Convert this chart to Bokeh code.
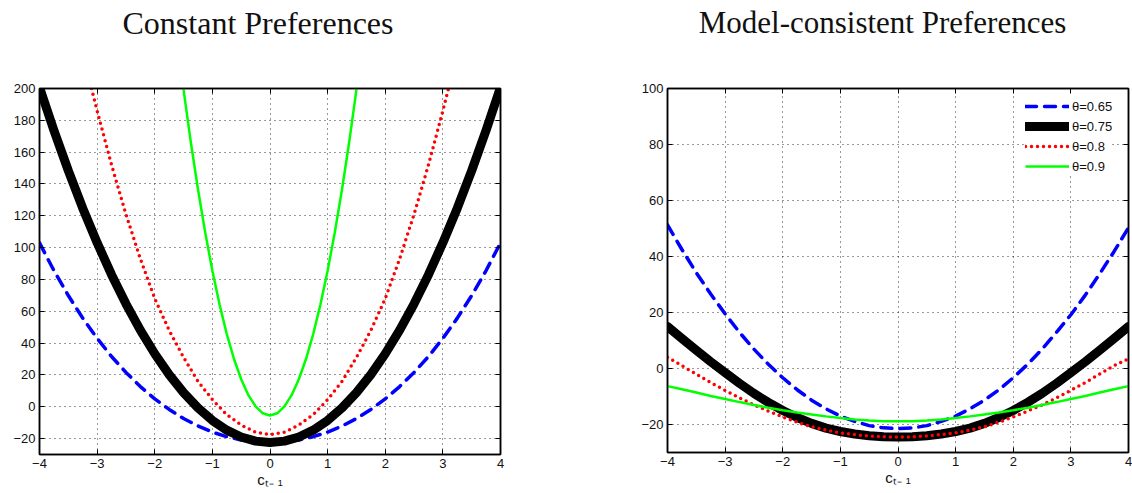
from bokeh.plotting import figure
from bokeh.models import Range1d, FixedTicker, LinearAxis, Title
from bokeh.layouts import row
from bokeh.embed import file_html
from bokeh.resources import INLINE

# ---------------- data ----------------
x_full = [-4, -3.75, -3.5, -3.25, -3, -2.75, -2.5, -2.25, -2, -1.75, -1.5, -1.25, -1, -0.75, -0.5, -0.25,
          0, 0.25, 0.5, 0.75, 1, 1.25, 1.5, 1.75, 2, 2.25, 2.5, 2.75, 3, 3.25, 3.5, 3.75, 4]

# Constant Preferences
left_065 = [103.0, 85.6, 69.9, 55.7, 43.0, 31.6, 21.6, 12.7, 5.0, -1.7, -7.4, -12.1, -15.9, -18.8, -20.9, -22.1,
            -22.5, -22.1, -20.9, -18.8, -15.9, -12.1, -7.4, -1.7, 5.0, 12.7, 21.6, 31.6, 43.0, 55.7, 69.9, 85.6, 103.0]
left_075 = [200.7, 173.7, 148.4, 124.8, 103.1, 83.0, 64.7, 48.1, 33.3, 20.2, 8.9, -0.7, -8.6, -14.7, -19.0, -21.6,
            -22.5, -21.6, -19.0, -14.7, -8.6, -0.7, 8.9, 20.2, 33.3, 48.1, 64.7, 83.0, 103.1, 124.8, 148.4, 173.7, 200.7]
x_red_left = [-3.25, -3, -2.75, -2.5, -2.25, -2, -1.75, -1.5, -1.25, -1, -0.75, -0.5, -0.25,
              0, 0.25, 0.5, 0.75, 1, 1.25, 1.5, 1.75, 2, 2.25, 2.5, 2.75, 3, 3.25]
left_08 = [222, 186, 152, 121, 93, 68, 48, 31, 16, 4.5, -5, -11.5, -16,
           -17.5, -16, -11.5, -5, 4.5, 16, 31, 48, 68, 93, 121, 152, 186, 222]
x_green_left = [-1.625, -1.5, -1.375, -1.25, -1.125, -1, -0.875, -0.75, -0.625, -0.5, -0.375, -0.25, -0.125,
                0, 0.125, 0.25, 0.375, 0.5, 0.625, 0.75, 0.875, 1, 1.125, 1.25, 1.375, 1.5, 1.625]
left_09 = [234.8, 199.3, 166.5, 136.7, 109.7, 85.5, 64.2, 45.7, 30.0, 17.3, 7.3, 0.2, -4.1,
           -5.5, -4.1, 0.2, 7.3, 17.3, 30.0, 45.7, 64.2, 85.5, 109.7, 136.7, 166.5, 199.3, 234.8]

# Model-consistent Preferences
right_065 = [51.3, 42.5, 34.2, 26.6, 19.5, 12.9, 6.9, 1.5, -3.3, -7.6, -11.3, -14.4, -17.0, -18.9, -20.4, -21.2,
             -21.5, -21.2, -20.4, -18.9, -17.0, -14.4, -11.3, -7.6, -3.3, 1.5, 6.9, 12.9, 19.2, 26.2, 33.8, 41.8, 50.3]
right_075 = [15.0, 10.7, 6.5, 2.4, -1.5, -5.3, -8.9, -12.1, -15.0, -17.5, -19.6, -21.3, -22.5, -23.4, -24.0, -24.4,
             -24.5, -24.4, -24.0, -23.4, -22.5, -21.3, -19.6, -17.5, -15.0, -12.1, -8.9, -5.3, -1.5, 2.4, 6.5, 10.7, 15.0]
right_08 = [4.0, 1.0, -2.0, -5.0, -7.8, -10.5, -13.0, -15.2, -17.3, -19.2, -20.8, -22.0, -23.0, -23.6, -24.1, -24.4,
            -24.5, -24.4, -24.1, -23.6, -23.0, -22.0, -20.8, -19.2, -17.3, -15.2, -13.0, -10.5, -7.8, -5.0, -2.0, 1.0, 3.5]
right_09 = [-6.3, -7.4, -8.6, -9.8, -10.9, -12.0, -13.0, -14.0, -14.9, -15.7, -16.4, -17.1, -17.7, -18.2, -18.6, -18.8,
            -18.8, -18.8, -18.6, -18.2, -17.7, -17.1, -16.4, -15.7, -14.9, -14.0, -13.0, -12.0, -10.9, -9.8, -8.6, -7.4, -6.3]

x_ticks = [-4, -3, -2, -1, 0, 1, 2, 3, 4]
y_ticks_left = [-20, 0, 20, 40, 60, 80, 100, 120, 140, 160, 180, 200]
y_ticks_right = [-20, 0, 20, 40, 60, 80, 100]
legend_labels = ["θ=0.65", "θ=0.75", "θ=0.8", "θ=0.9"]
titles = ["Constant Preferences", "Model-consistent Preferences"]
x_label = "c\u209c\u208b \u2081"   # c_{t- 1}

SANS = "Liberation Sans"
SERIF = "Liberation Serif"
INK = "#111111"


def style_axis(ax, ticks, labels=True):
    ax.ticker = FixedTicker(ticks=ticks)
    ax.major_tick_in = 5
    ax.major_tick_out = 0
    ax.minor_tick_line_color = None
    ax.major_tick_line_color = "black"
    ax.major_tick_line_width = 1
    ax.axis_line_color = "black"
    ax.axis_line_width = 1.5
    ax.major_label_text_font = SANS
    ax.major_label_text_font_size = "13px"
    ax.major_label_text_color = INK
    if labels:
        ax.major_label_standoff = 4
    else:
        ax.major_label_overrides = {t: "" for t in ticks}
        ax.major_label_standoff = 0


def make_fig(ylo, yhi, yticks, fh, mb_top, mb_bottom, mb_left, mb_right, title, pad, tsize, gap):
    p = figure(frame_width=461, frame_height=fh, x_range=Range1d(-4, 4), y_range=Range1d(ylo, yhi),
               output_backend="svg", toolbar_location=None,
               min_border_top=mb_top, min_border_bottom=mb_bottom,
               min_border_left=mb_left, min_border_right=mb_right)
    p.background_fill_color = "white"
    p.border_fill_color = "white"
    p.outline_line_color = "black"
    p.outline_line_width = 1.5
    style_axis(p.xaxis[0], x_ticks)
    style_axis(p.yaxis[0], yticks)
    xa = p.xaxis[0]
    xa.axis_label = x_label
    xa.axis_label_text_font = SANS
    xa.axis_label_text_font_size = "15px"
    xa.axis_label_text_font_style = "normal"
    xa.axis_label_text_color = INK
    xa.axis_label_standoff = 0
    top = LinearAxis()
    style_axis(top, x_ticks, labels=False)
    p.add_layout(top, "above")
    rgt = LinearAxis()
    style_axis(rgt, yticks, labels=False)
    p.add_layout(rgt, "right")
    # spacer between frame and title
    p.add_layout(Title(text="\u00a0", text_font_size="1px", standoff=gap), "above")
    p.xgrid.ticker = FixedTicker(ticks=x_ticks)
    p.ygrid.ticker = FixedTicker(ticks=yticks)
    for g in (p.xgrid, p.ygrid):
        g.grid_line_color = "black"
        g.grid_line_alpha = 0.8
        g.grid_line_dash = "1 4"
        g.grid_line_width = 1
    # trailing no-break spaces shift the centred title slightly to the left, as in the original
    p.title = Title(text=title + "\u00a0" * pad, align="center", standoff=0,
                    text_font=SERIF, text_font_size=tsize, text_font_style="normal",
                    text_color=INK)
    p.title_location = "above"
    return p


p1 = make_fig(-30, 200, y_ticks_left, 366, 85, 41, 39, 40, titles[0], 3, "32px", 45)
p1.line(x_full, left_065, line_color="#0000ff", line_width=3.5, line_dash="11 8", line_cap="round")
p1.line(x_full, left_075, line_color="black", line_width=9, line_cap="round", line_join="round")
p1.line(x_red_left, left_08, line_color="#ff0000", line_width=3.5, line_dash="0 6", line_cap="round")
p1.line(x_green_left, left_09, line_color="#00ff00", line_width=2.5)

p2 = make_fig(-30, 100, y_ticks_right, 364, 88, 40, 127, 4, titles[1], 4, "31px", 46)
p2.line(x_full, right_065, line_color="#0000ff", line_width=3.5, line_dash="11 8", line_cap="round",
        legend_label=legend_labels[0])
p2.line(x_full, right_075, line_color="black", line_width=9, line_cap="round", line_join="round",
        legend_label=legend_labels[1])
p2.line(x_full, right_08, line_color="#ff0000", line_width=3.5, line_dash="0 6", line_cap="round",
        legend_label=legend_labels[2])
p2.line(x_full, right_09, line_color="#00ff00", line_width=2.5, legend_label=legend_labels[3])

lg = p2.legend[0]
lg.location = (358, 276)
lg.padding = 4
lg.spacing = 0
lg.margin = 0
lg.glyph_width = 44
lg.glyph_height = 20
lg.label_height = 20
lg.label_standoff = 3
lg.label_text_font = SANS
lg.label_text_font_size = "13px"
lg.label_text_color = INK
lg.border_line_color = None
lg.background_fill_color = "white"
lg.background_fill_alpha = 1.0

layout = row(p1, p2)
open("out.html", "w").write(file_html(layout, INLINE))
